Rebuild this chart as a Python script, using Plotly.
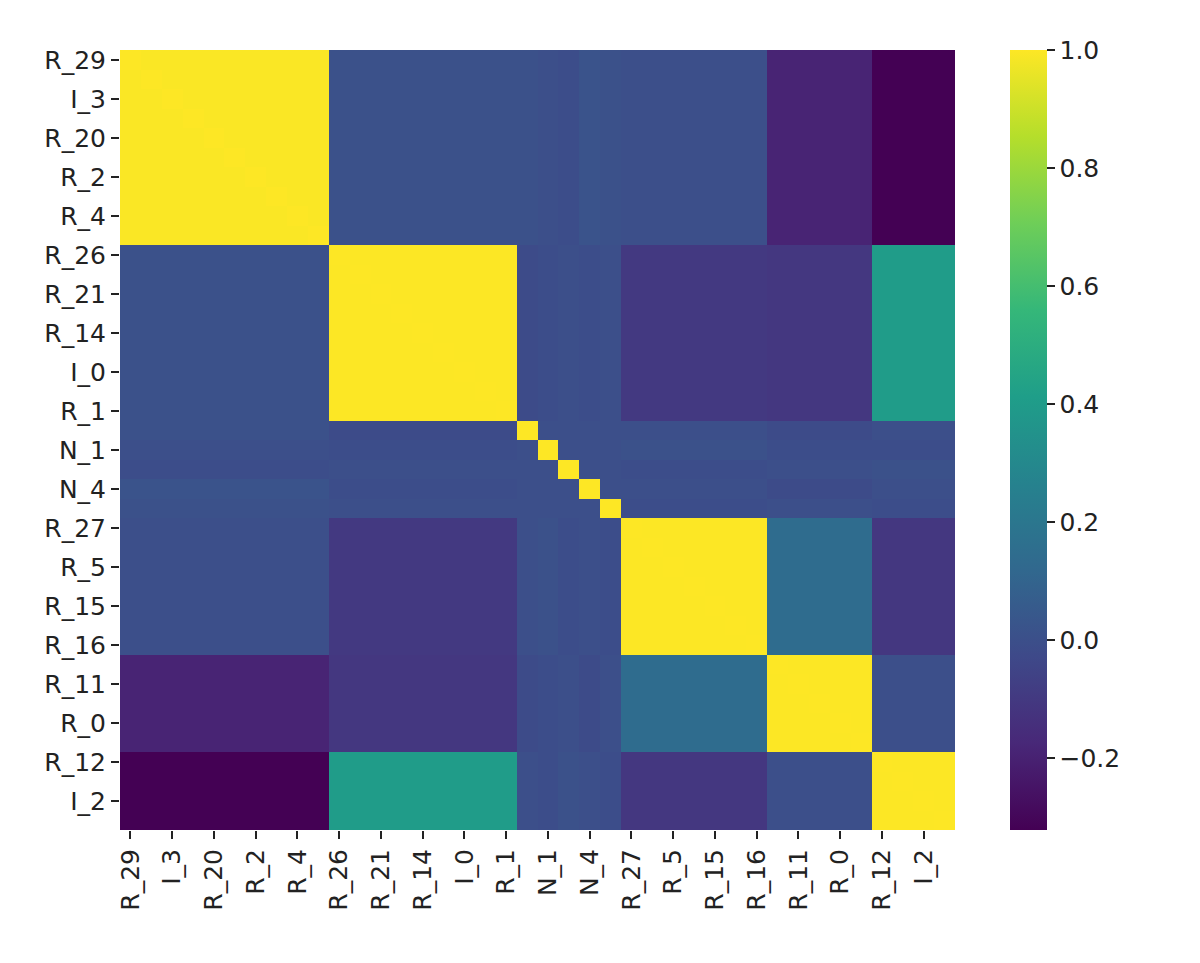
import plotly.graph_objects as go

# feature order as drawn (rows = columns); only every other name is labelled
features = [
    "R_29", "R_3", "I_3", "R_6", "R_20", "R_7", "R_2", "R_8", "R_4", "R_9",
    "R_26", "R_10", "R_21", "R_13", "R_14", "R_17", "I_0", "R_18", "R_1",
    "N_0", "N_1", "N_2", "N_4", "N_3",
    "R_27", "I_1", "R_5", "R_19", "R_15", "R_22", "R_16",
    "I_4", "R_11", "R_23", "R_0", "R_24",
    "R_12", "R_25", "I_2", "R_28",
]
group_of = (
    ["A"] * 10 + ["B"] * 9 + ["N_0", "N_1", "N_2", "N_4", "N_3"]
    + ["C"] * 7 + ["D"] * 5 + ["E"] * 4
)

# correlation between groups
group_names = ["A", "B", "C", "D", "E"]
group_corr = [
    [0.993, 0.01, 0.00, -0.19, -0.322],
    [0.01, 0.998, -0.10, -0.11, 0.40],
    [0.00, -0.10, 0.998, 0.14, -0.11],
    [-0.19, -0.11, 0.14, 0.998, 0.00],
    [-0.322, 0.40, -0.11, 0.00, 0.998],
]
# noise features vs. groups A..E
noise_corr = {
    "N_0": [0.01, -0.02, 0.00, -0.02, 0.00],
    "N_1": [0.00, -0.01, 0.01, -0.01, -0.01],
    "N_2": [-0.01, 0.00, -0.01, 0.00, 0.01],
    "N_4": [0.02, -0.01, 0.00, -0.02, 0.00],
    "N_3": [0.01, 0.00, -0.01, 0.00, -0.01],
}
noise_noise = 0.0

colorbar_ticks = [-0.2, 0.0, 0.2, 0.4, 0.6, 0.8, 1.0]


def pair_value(i, j):
    if i == j:
        return 1.0
    gi, gj = group_of[i], group_of[j]
    ni, nj = gi in noise_corr, gj in noise_corr
    if ni and nj:
        return noise_noise
    if ni:
        return noise_corr[gi][group_names.index(gj)]
    if nj:
        return noise_corr[gj][group_names.index(gi)]
    return group_corr[group_names.index(gi)][group_names.index(gj)]


n = len(features)
z = [[pair_value(i, j) for j in range(n)] for i in range(n)]

fig = go.Figure(go.Heatmap(
    z=z, x=features, y=features,
    colorscale="Viridis",
    colorbar=dict(
        x=1.0659, xanchor="left", y=0.5, yanchor="middle",
        len=1, thickness=37, outlinewidth=0, xpad=0, ypad=0,
        tickvals=colorbar_ticks, tickformat=".1f",
        ticks="outside", ticklen=8, tickwidth=1.5, tickcolor="#222",
        tickfont=dict(size=25, color="#222"),
    ),
))

axis_common = dict(
    type="category", ticks="outside", ticklen=8, tickwidth=1.5,
    tickcolor="#222", showgrid=False, zeroline=False, showline=False,
    tickfont=dict(size=25, color="#222"),
)
fig.update_xaxes(tickvals=features[::2], ticktext=features[::2],
                 tickangle=-90, **axis_common)
fig.update_yaxes(tickvals=features[::2], ticktext=features[::2],
                 autorange="reversed", **axis_common)

fig.update_layout(
    width=1200, height=963,
    margin=dict(l=112, r=253, t=42, b=141),
    paper_bgcolor="white", plot_bgcolor="white",
    font=dict(family="DejaVu Sans", size=25, color="#222"),
)
fig.write_html("out.html")
